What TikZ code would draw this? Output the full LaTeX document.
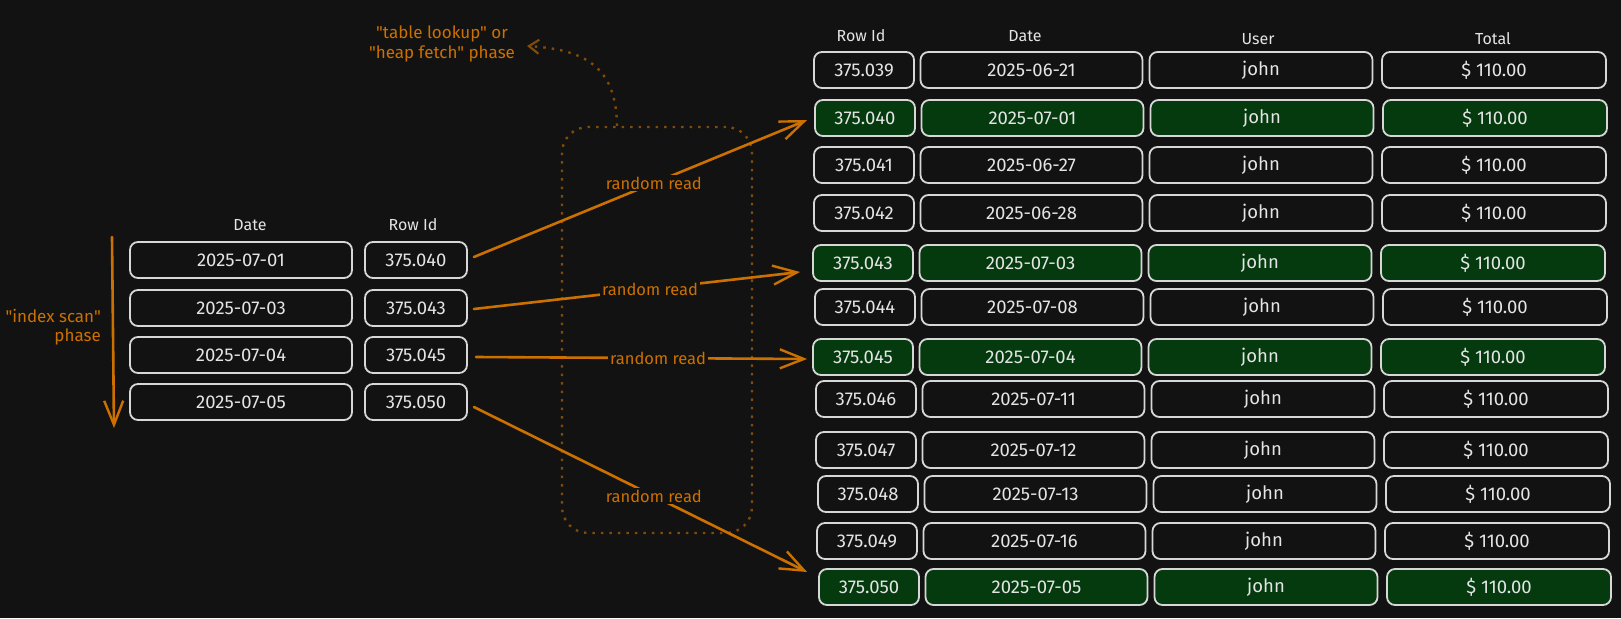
\documentclass[tikz,border=0pt]{standalone}
\usepackage{fontspec}
\setmainfont{Fira Sans}[Ligatures=TeXOff]
\usetikzlibrary{arrows.meta,calc}
\definecolor{bg}{RGB}{18,18,18}
\definecolor{strk}{RGB}{215,215,215}
\definecolor{txt}{RGB}{228,228,228}
\definecolor{org}{RGB}{204,112,0}
\definecolor{orgdim}{RGB}{128,74,8}
\definecolor{grn}{RGB}{4,58,14}
\newcommand\tabrow[6]{%
  \node[#6, minimum width=100pt] (#1a) at (863+#3,#2) {#4};
  \node[#6, minimum width=222pt] (#1b) at (1030.5+#3,#2) {#5};
  \node[#6, minimum width=223pt] (#1c) at (1260+#3,#2) {john};
  \node[#6, minimum width=224pt] (#1d) at (1493+#3,#2) {\$ 110.00};
}
\begin{document}
\begin{tikzpicture}[x=1pt,y=-1pt,
  cell/.style={draw=strk, line width=1.8pt, rounded corners=8pt, minimum height=36pt,
    inner sep=0pt, text=txt, font=\fontsize{18.5}{20}\selectfont, fill=bg},
  hit/.style={cell, fill=grn},
  hdr/.style={text=txt, font=\fontsize{16}{18}\selectfont, inner sep=0pt},
  orglabel/.style={text=org, font=\fontsize{17}{19.5}\selectfont, inner sep=0pt},
  rr/.style={text=org, font=\fontsize{16.5}{18}\selectfont, fill=bg, inner sep=2pt},
  orgarrow/.style={draw=org, line width=2.6pt, line cap=round,
    -{Straight Barb[length=24pt, width=19pt, line width=2.4pt]}},
  phasebox/.style={draw=orgdim, line width=2.4pt, dash pattern=on 2.5pt off 6pt,
    rounded corners=26pt, inner sep=0pt},
  dimarrow/.style={draw=orgdim, line width=2.4pt, dash pattern=on 2.5pt off 6pt,
    -{Straight Barb[length=10pt, width=14pt, line width=2.2pt]}}
]
\fill[bg] (0,0) rectangle (1621,618);
\useasboundingbox (0,0) rectangle (1621,618);

% phase box behind everything
\node[phasebox, minimum width=190pt, minimum height=406pt] (phase) at (657,330) {};

% left index table
\node[hdr] (lhd) at (250,225) {Date};
\node[hdr] (lhr) at (413,225) {Row Id};
\foreach \n/\y/\d/\r in {1/260/2025-07-01/375.040, 2/308/2025-07-03/375.043,
                         3/355/2025-07-04/375.045, 4/402/2025-07-05/375.050}{
  \node[cell, minimum width=222pt] (l\n a) at (241,\y) {\d};
  \node[cell, minimum width=102pt] (l\n b) at (416,\y) {\r};
}

% index scan arrow
\coordinate (s0) at (112,237);
\coordinate (s1) at (114,428);
\draw[orgarrow] (s0) -- (s1);
\node[orglabel, align=right, anchor=east] (isl) at (101,327) {"index scan"\\phase};

% right table headers
\node[hdr] (rh1) at (861,36) {Row Id};
\node[hdr] (rh2) at (1025,36) {Date};
\node[hdr] (rh3) at (1258,39) {User};
\node[hdr] (rh4) at (1493,39) {Total};

% right table rows
\tabrow{r1}{70}{1}{375.039}{2025-06-21}{cell}
\tabrow{r2}{118}{2}{375.040}{2025-07-01}{hit}
\tabrow{r3}{165}{1}{375.041}{2025-06-27}{cell}
\tabrow{r4}{213}{1}{375.042}{2025-06-28}{cell}
\tabrow{r5}{263}{0}{375.043}{2025-07-03}{hit}
\tabrow{r6}{307}{2}{375.044}{2025-07-08}{cell}
\tabrow{r7}{357}{0}{375.045}{2025-07-04}{hit}
\tabrow{r8}{399}{3}{375.046}{2025-07-11}{cell}
\tabrow{r9}{450}{3}{375.047}{2025-07-12}{cell}
\tabrow{r10}{494}{5}{375.048}{2025-07-13}{cell}
\tabrow{r11}{541}{4}{375.049}{2025-07-16}{cell}
\tabrow{r12}{587}{6}{375.050}{2025-07-05}{hit}

% random reads
\draw[orgarrow] ([xshift=6pt,yshift=3pt]l1b.east) -- node[rr, pos=0.54] (rr1) {random read}
  ([xshift=-7pt,yshift=-2pt]r2a.west);
\draw[orgarrow] ([xshift=6pt,yshift=-1pt]l2b.east) -- node[rr, pos=0.54] (rr2) {random read}
  ([xshift=-12pt,yshift=-9pt]r5a.west);
\draw[orgarrow] ([xshift=8pt,yshift=-2pt]l3b.east) -- node[rr, pos=0.55] (rr3) {random read}
  ([xshift=-5pt,yshift=-2pt]r7a.west);
\draw[orgarrow] ([xshift=6pt,yshift=-5pt]l4b.east) -- node[rr, pos=0.54] (rr4) {random read}
  ([xshift=-11pt,yshift=15pt]r12a.west);

% phase label
\node[orglabel, align=center] (tl) at (442,44) {"table lookup" or\\"heap fetch" phase};
\coordinate (tlend) at (527,46);
\draw[dimarrow] ([xshift=-40pt]phase.north) .. controls (616,72) and (592,50) .. (tlend);
\end{tikzpicture}
\end{document}
